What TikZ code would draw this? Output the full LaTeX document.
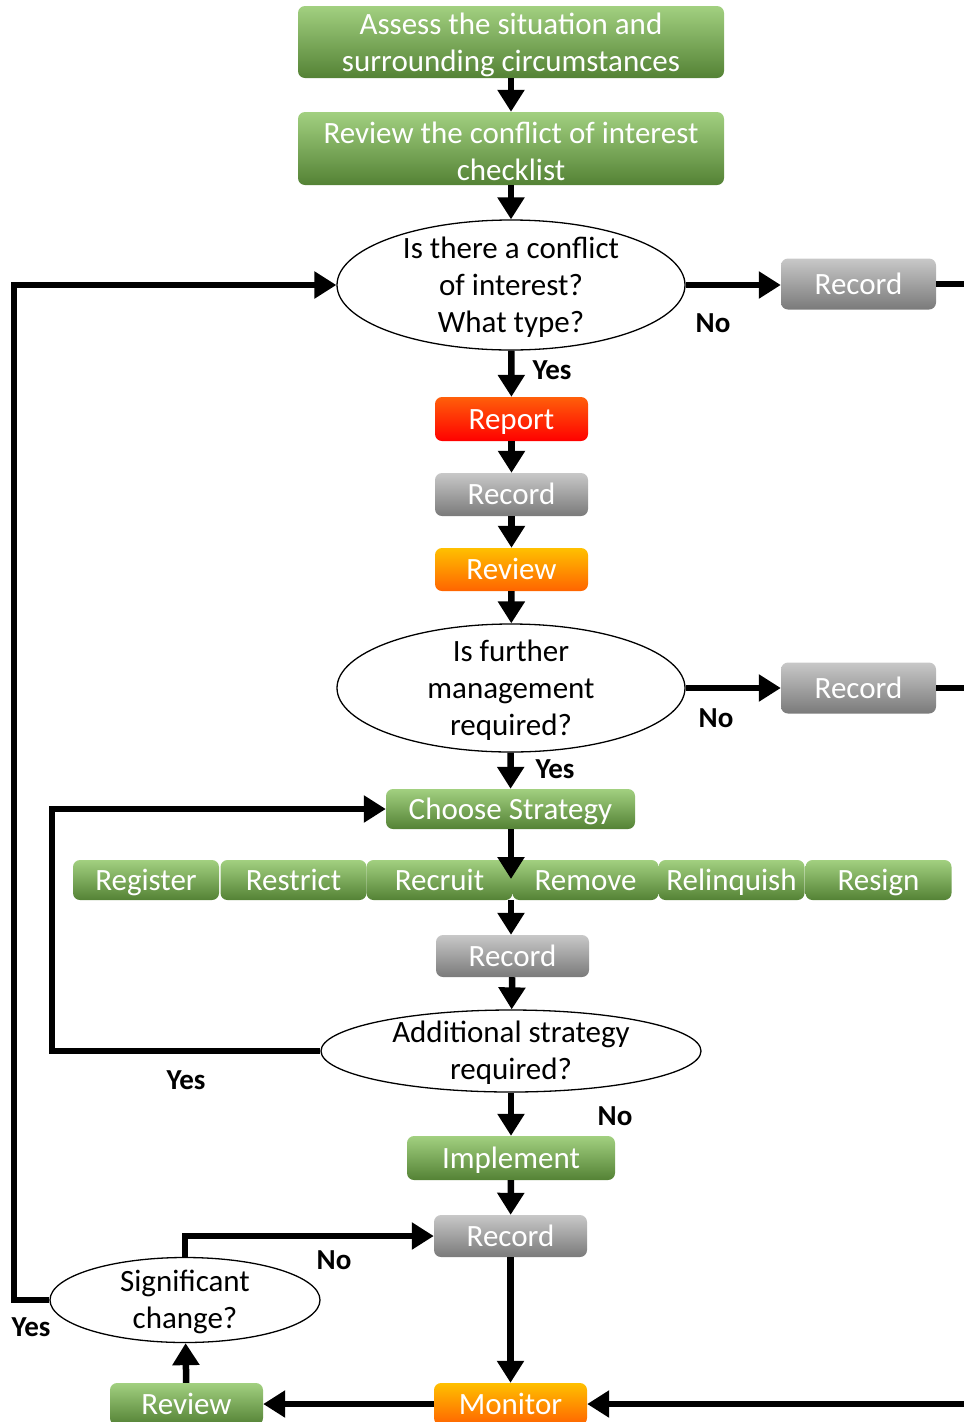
\documentclass[tikz,border=0pt]{standalone}
\usepackage{fontspec}
\setmainfont{Carlito}
\usetikzlibrary{arrows.meta,shapes.geometric}
\definecolor{gA}{RGB}{162,208,128}
\definecolor{gB}{RGB}{112,173,71}
\definecolor{gC}{RGB}{84,130,53}
\definecolor{yA}{RGB}{200,200,200}
\definecolor{yB}{RGB}{165,165,165}
\definecolor{yC}{RGB}{122,122,122}
\definecolor{rA}{RGB}{255,95,10}
\definecolor{rB}{RGB}{255,20,0}
\definecolor{rC}{RGB}{255,0,0}
\definecolor{oA}{RGB}{255,192,0}
\definecolor{oB}{RGB}{255,125,0}
\definecolor{oC}{RGB}{255,100,0}
\begin{document}
\begin{tikzpicture}[x=1pt,y=-1pt,
  box/.style={rectangle, rounded corners=7pt, inner sep=0pt, text=white,
    font=\fontsize{31}{37}\selectfont, align=center},
  one/.style={text height=24pt, text depth=4pt},
  wtxt/.style={text=white, font=\fontsize{31}{37}\selectfont, align=center, inner sep=0pt},
  btxt/.style={text=black, font=\fontsize{31}{37}\selectfont, align=center, inner sep=0pt},
  greenbox/.style={box, top color=gA, middle color=gB, bottom color=gC},
  graybox/.style={box, top color=yA, middle color=yB, bottom color=yC},
  redbox/.style={box, top color=rA, middle color=rB, bottom color=rC},
  orangebox/.style={box, top color=oA, middle color=oB, bottom color=oC},
  decision/.style={ellipse, draw=black, line width=1.3pt, fill=white, inner sep=0pt},
  lbl/.style={font=\fontsize{29}{32}\selectfont\bfseries},
  ln/.style={line width=6.5pt, line join=miter},
  arr/.style={ln, -{Triangle[length=22pt,width=26pt]}}]
\useasboundingbox (0,0) rectangle (964,1422);

% nodes
\node[greenbox, minimum width=426pt, minimum height=72pt,
  label={[wtxt,yshift=-3pt]center:Assess the situation and\\surrounding circumstances}] (b1) at (511,42) {};
\node[greenbox, minimum width=426pt, minimum height=73pt,
  label={[wtxt,yshift=-3pt]center:Review the conflict of interest\\checklist}] (b2) at (511,148.5) {};
\node[decision, minimum width=348pt, minimum height=130pt,
  label={[btxt,yshift=-2pt]center:Is there a conflict\\of interest?\\What type?}] (e1) at (511,285) {};
\node[graybox, one, minimum width=155pt, minimum height=51pt] (rec1) at (858.5,284) {Record};
\node[redbox, one, minimum width=153pt, minimum height=44pt] (report) at (511.5,419) {Report};
\node[graybox, one, minimum width=153pt, minimum height=43pt] (recB) at (511.5,494.5) {Record};
\node[orangebox, one, minimum width=153pt, minimum height=43pt] (revA) at (511.5,569.5) {Review};
\node[decision, minimum width=348pt, minimum height=128pt,
  label={[btxt,yshift=-2pt]center:Is further\\management\\required?}] (e2) at (511,688) {};
\node[graybox, one, minimum width=155pt, minimum height=51pt] (rec2) at (858.5,688) {Record};
\node[greenbox, one, minimum width=249pt, minimum height=40pt] (cs) at (510.5,809) {Choose Strategy};

\node[greenbox, one, minimum width=146pt, minimum height=40pt] (s1) at (146,880) {Register};
\node[greenbox, one, minimum width=146pt, minimum height=40pt] (s2) at (293.5,880) {Restrict};
\node[greenbox, one, minimum width=146pt, minimum height=40pt] (s3) at (439.5,880) {Recruit};
\node[greenbox, one, minimum width=146pt, minimum height=40pt] (s4) at (585.5,880) {Remove};
\node[greenbox, one, minimum width=146pt, minimum height=40pt] (s5) at (731.5,880) {Relinquish};
\node[greenbox, one, minimum width=146pt, minimum height=40pt] (s6) at (878.5,880) {Resign};

\node[graybox, one, minimum width=153pt, minimum height=42pt] (recC) at (512.5,956) {Record};
\node[decision, minimum width=380pt, minimum height=82pt,
  label={[btxt,yshift=-2pt]center:Additional strategy\\required?}] (e3) at (511,1051) {};
\node[greenbox, one, minimum width=208pt, minimum height=44pt] (impl) at (511,1158) {Implement};
\node[graybox, one, minimum width=153pt, minimum height=42pt] (recD) at (510.5,1236) {Record};
\node[orangebox, one, minimum width=153pt, minimum height=42pt] (mon) at (510.5,1404) {Monitor};
\node[greenbox, one, minimum width=153pt, minimum height=42pt] (revB) at (186.5,1404) {Review};
\node[decision, minimum width=270pt, minimum height=85pt,
  label={[btxt,yshift=-2pt]center:Significant\\change?}] (e4) at (185,1300) {};

% helper coordinates
\coordinate (R) at (970,0);
\coordinate (L1) at (52,0);
\coordinate (L2) at (14,0);
\coordinate (rowtip) at (511,879);
\coordinate (rowbot) at (511,900);
\coordinate (mright) at (970,1404);

% connectors
\draw[arr] (b1) -- (b2);
\draw[arr] (b2) -- (e1);
\draw[arr] (e1.east) -- (e1.east -| rec1.west);
\draw[ln] (rec1.east) -- (rec1.east -| R);
\draw[arr] (e1) -- (report);
\draw[arr] (report) -- (recB);
\draw[arr] (recB) -- (revA);
\draw[arr] (revA) -- (e2);
\draw[arr] (e2.east) -- (e2.east -| rec2.west);
\draw[ln] (rec2.east) -- (rec2.east -| R);
\draw[arr] (e2) -- (cs);
\draw[arr] (cs.south -| rowtip) -- (rowtip);
\draw[arr] (rowbot) -- (rowbot |- recC.north);
\draw[arr] (recC) -- (e3);
\draw[arr] (e3) -- (impl);
\draw[arr] (impl) -- (recD);
\draw[arr] (recD) -- (mon);
\draw[arr] (e3.west) -- (e3.west -| L1) -- (cs.west -| L1) -- (cs.west);
\draw[arr] (mright) -- (mon.east);
\draw[arr] (mon.west) -- (revB.east);
\draw[arr] (revB) -- (e4);
\draw[arr] (e4.north) -- (e4.north |- recD.west) -- (recD.west);
\draw[arr] (e4.west) -- (e4.west -| L2) -- (e1.west -| L2) -- (e1.west);

% labels
\node[lbl] (n1) at (713,323) {No};
\node[lbl] (y1) at (552,370) {Yes};
\node[lbl] (n2) at (716,718) {No};
\node[lbl] (y2) at (555,769) {Yes};
\node[lbl] (y3) at (186,1080) {Yes};
\node[lbl] (n3) at (615,1116) {No};
\node[lbl] (n4) at (334,1260) {No};
\node[lbl] (y4) at (31,1327) {Yes};
\end{tikzpicture}
\end{document}
